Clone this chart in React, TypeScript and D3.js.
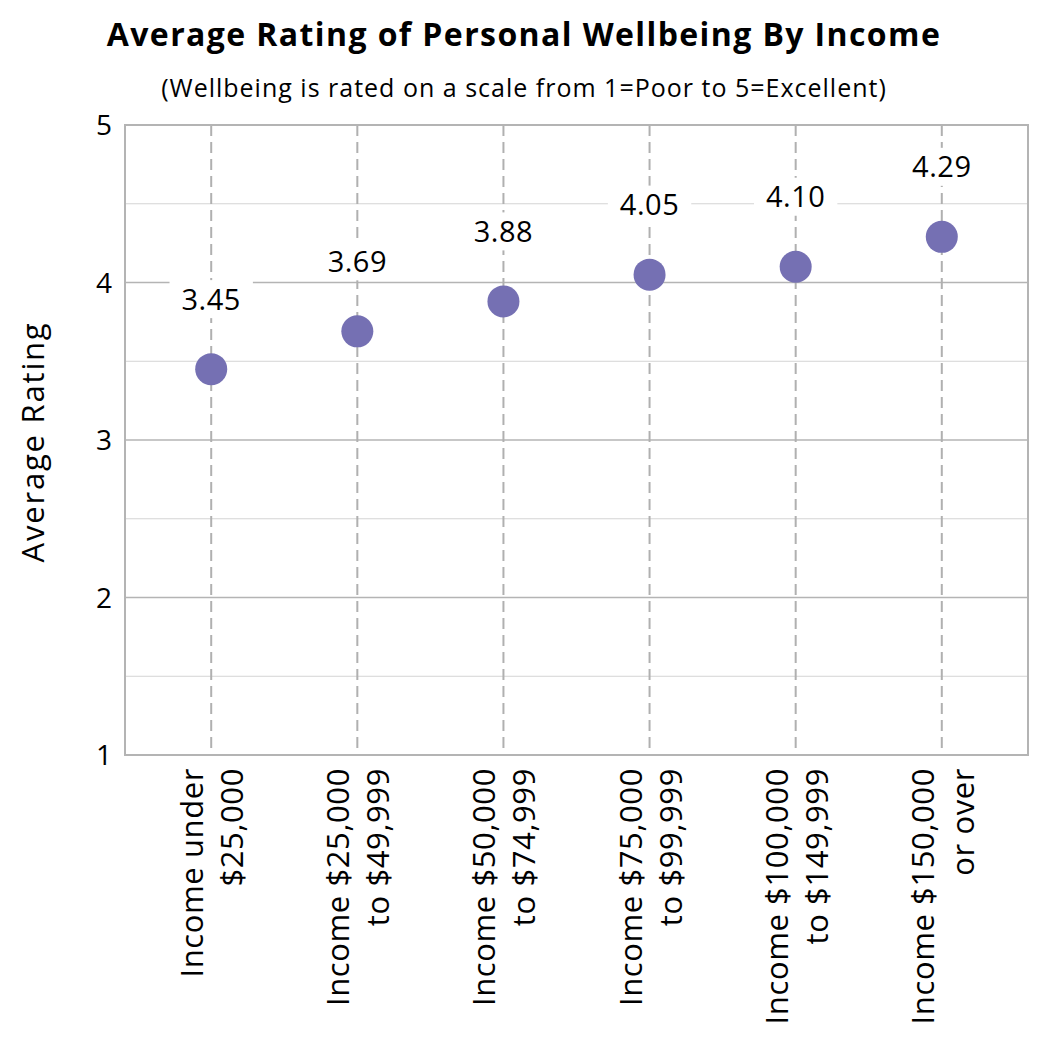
import { useEffect, useRef } from "react";
import * as d3 from "d3";

const categories = [
  ["Income under", "$25,000"],
  ["Income $25,000", "to $49,999"],
  ["Income $50,000", "to $74,999"],
  ["Income $75,000", "to $99,999"],
  ["Income $100,000", "to $149,999"],
  ["Income $150,000", "or over"],
];
const ratings = [3.45, 3.69, 3.88, 4.05, 4.1, 4.29];
const majorTicks = [1, 2, 3, 4, 5];
const minorTicks = [1.5, 2.5, 3.5, 4.5];

const W = 1050;
const H = 1050;
const PLOT = { left: 125, right: 1028, top: 125, bottom: 755 };
const FONT = "'Open Sans', sans-serif";
const DOT = "#7570b3";

export default function App() {
  const svgRef = useRef<SVGSVGElement>(null);

  useEffect(() => {
    const svg = svgRef.current;
    if (!svg) return;
    d3.select(svg).selectAll("*").remove();
    const root = d3.select(svg).attr("width", W).attr("height", H);

    root.append("rect").attr("width", W).attr("height", H).attr("fill", "#fff");

    const keys = categories.map((c) => c.join(" "));
    const x = d3
      .scalePoint<string>()
      .domain(keys)
      .range([PLOT.left, PLOT.right])
      .padding(0.59);
    const y = d3.scaleLinear().domain([1, 5]).range([PLOT.bottom, PLOT.top]);

    // Title
    root
      .append("text")
      .attr("x", 524)
      .attr("y", 46)
      .attr("text-anchor", "middle")
      .attr("font-family", FONT)
      .attr("font-weight", "bold")
      .attr("font-size", 32)
      .attr("letter-spacing", 1.4)
      .text("Average Rating of Personal Wellbeing By Income");

    root
      .append("text")
      .attr("x", 524)
      .attr("y", 97)
      .attr("text-anchor", "middle")
      .attr("font-family", FONT)
      .attr("font-size", 25)
      .attr("letter-spacing", 1)
      .text("(Wellbeing is rated on a scale from 1=Poor to 5=Excellent)");

    // Grid
    root
      .append("g")
      .selectAll("line")
      .data(minorTicks)
      .join("line")
      .attr("x1", PLOT.left)
      .attr("x2", PLOT.right)
      .attr("y1", (d) => y(d))
      .attr("y2", (d) => y(d))
      .attr("stroke", "#d4d4d4")
      .attr("stroke-width", 1);

    root
      .append("g")
      .selectAll("line")
      .data(majorTicks)
      .join("line")
      .attr("x1", PLOT.left)
      .attr("x2", PLOT.right)
      .attr("y1", (d) => y(d))
      .attr("y2", (d) => y(d))
      .attr("stroke", "#b4b4b4")
      .attr("stroke-width", 1.5);

    root
      .append("g")
      .selectAll("line")
      .data(keys)
      .join("line")
      .attr("x1", (d) => x(d)!)
      .attr("x2", (d) => x(d)!)
      .attr("y1", PLOT.top)
      .attr("y2", PLOT.bottom)
      .attr("stroke", "#b0b0b0")
      .attr("stroke-width", 2)
      .attr("stroke-dasharray", "11,6");

    // Border
    root
      .append("rect")
      .attr("x", PLOT.left)
      .attr("y", PLOT.top)
      .attr("width", PLOT.right - PLOT.left)
      .attr("height", PLOT.bottom - PLOT.top)
      .attr("fill", "none")
      .attr("stroke", "#b4b4b4")
      .attr("stroke-width", 2);

    // Y tick labels
    root
      .append("g")
      .selectAll("text")
      .data(majorTicks)
      .join("text")
      .attr("x", 112)
      .attr("y", (d) => y(d))
      .attr("dy", "0.36em")
      .attr("text-anchor", "end")
      .attr("font-family", FONT)
      .attr("font-size", 28)
      .text((d) => d);

    root
      .append("text")
      .attr("transform", `translate(33,${(PLOT.top + PLOT.bottom) / 2 + 2}) rotate(-90)`)
      .attr("text-anchor", "middle")
      .attr("dy", "0.36em")
      .attr("font-family", FONT)
      .attr("font-size", 31)
      .attr("letter-spacing", 1.8)
      .text("Average Rating");

    // X labels
    const xl = root
      .append("g")
      .selectAll("g")
      .data(categories)
      .join("g")
      .attr("transform", (d) => `translate(${x(d.join(" "))},768) rotate(-90)`);
    xl.selectAll("text")
      .data((d) => d)
      .join("text")
      .attr("x", 0)
      .attr("y", (_, i) => (i === 0 ? -20 : 20))
      .attr("dominant-baseline", "central")
      .attr("text-anchor", "end")
      .attr("font-family", FONT)
      .attr("font-size", 31)
      .attr("letter-spacing", 0.6)
      .text((d) => d);

    // Points
    root
      .append("g")
      .selectAll("circle")
      .data(ratings)
      .join("circle")
      .attr("cx", (_, i) => x(keys[i])!)
      .attr("cy", (d) => y(d))
      .attr("r", 16)
      .attr("fill", DOT);

    // Data labels with white boxes
    const lab = root
      .append("g")
      .selectAll("g")
      .data(ratings)
      .join("g")
      .attr("transform", (d, i) => `translate(${x(keys[i])},${y(d) - 70})`);
    lab
      .append("rect")
      .attr("fill", "#fff");
    lab
      .append("text")
      .attr("text-anchor", "middle")
      .attr("dy", "0.36em")
      .attr("font-family", FONT)
      .attr("font-size", 29)
      .attr("letter-spacing", 0.5)
      .text((d) => d.toFixed(2));
    lab.each(function () {
      const g = d3.select(this);
      const t = g.select<SVGTextElement>("text").node()!;
      const w = t.getComputedTextLength() + 24;
      g.select("rect").attr("x", -w / 2).attr("y", -19).attr("width", w).attr("height", 38);
    });
  }, []);

  return (
    <div style={{ position: "absolute", left: 0, top: 0 }}>
      <svg ref={svgRef} style={{ display: "block" }} />
    </div>
  );
}
